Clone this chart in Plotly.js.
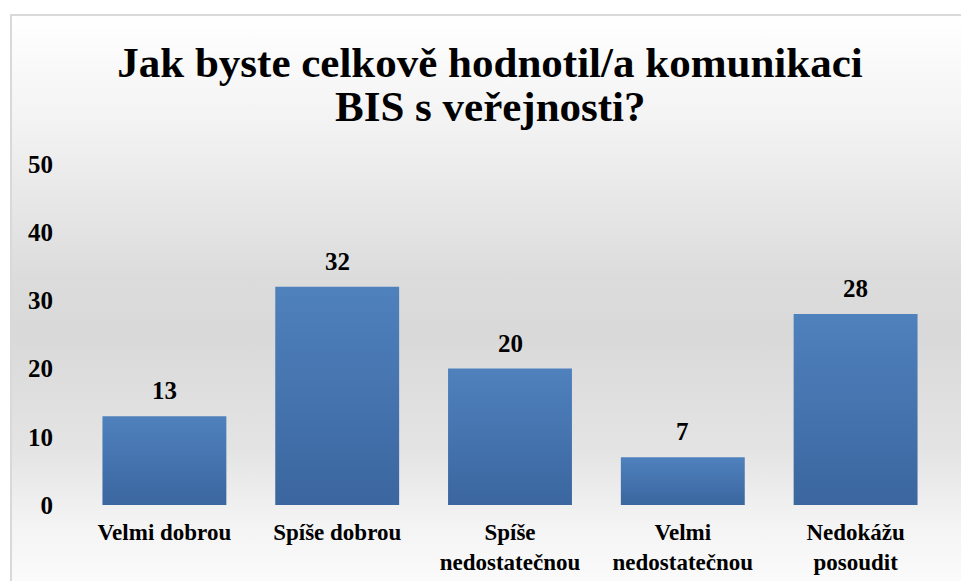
<!DOCTYPE html>
<html>
<head>
<meta charset="utf-8">
<script src="https://cdn.plot.ly/plotly-3.0.1.min.js"></script>
<style>
  html, body { margin: 0; padding: 0; background: #ffffff; }
  #wrap { position: relative; width: 961px; height: 581px; overflow: hidden; }
  #bg {
    position: absolute; left: 10px; top: 14px; width: 960px; height: 580px;
    border-left: 2px solid #d9d9d9; border-top: 2px solid #d9d9d9;
    background: linear-gradient(to bottom, #ffffff 0%, #f3f3f3 18%, #dcdcdc 45%, #d9d9d9 55%, #e4e4e4 75%, #f4f4f4 88%, #fcfcfc 100%);
  }
  #chart { position: absolute; left: 0; top: 0; width: 961px; height: 581px; }
</style>
</head>
<body>
<div id="wrap">
  <div id="bg"></div>
  <div id="chart"></div>
</div>
<script>
const categories = ["Velmi dobrou", "Spíše dobrou", "Spíše<br>nedostatečnou", "Velmi<br>nedostatečnou", "Nedokážu<br>posoudit"];
const values = [13, 32, 20, 7, 28];
const yTicks = [0, 10, 20, 30, 40, 50];
const titleLines = ["Jak byste celkově hodnotil/a komunikaci", "BIS s veřejnosti?"];

const FONT = "Liberation Serif";
const bold = s => s.split("<br>").map(t => "<b>" + t + "</b>").join("<br>");

const trace = {
  type: "bar",
  x: categories,
  y: values,
  marker: { color: "#4673ad" },
  hoverinfo: "none"
};

const annotations = categories.map((c, i) => ({
  x: c, y: values[i], xref: "x", yref: "y",
  text: "<b>" + values[i] + "</b>",
  showarrow: false, yanchor: "bottom", yshift: 10,
  font: { family: FONT, size: 25, color: "#000" }
}));
annotations.push({
  text: bold(titleLines[1]),
  xref: "paper", yref: "paper",
  x: (490 - 77.5) / (961 - 77.5 - 18.5), y: 1 + (164 - 107) / (581 - 164 - 76),
  xanchor: "center", yanchor: "middle", showarrow: false,
  font: { family: FONT, size: 43, color: "#000" }
});

const layout = {
  width: 961, height: 581,
  paper_bgcolor: "rgba(0,0,0,0)",
  plot_bgcolor: "rgba(0,0,0,0)",
  margin: { l: 77.5, r: 18.5, t: 164, b: 76 },
  bargap: 0.283,
  showlegend: false,
  font: { family: FONT, color: "#000" },
  title: {
    text: bold(titleLines[0]),
    x: 490 / 961, xanchor: "center",
    y: 1 - 62 / 581, yanchor: "middle", yref: "container",
    font: { family: FONT, size: 43, color: "#000" }
  },
  xaxis: {
    type: "category",
    showgrid: false, zeroline: false, showline: false,
    ticks: "outside", ticklen: 6, tickcolor: "rgba(0,0,0,0)",
    tickvals: categories,
    ticktext: categories.map(bold),
    tickfont: { family: FONT, size: 23, color: "#000" },
    fixedrange: true
  },
  yaxis: {
    range: [0, 50],
    tickvals: yTicks,
    ticktext: yTicks.map(v => "<b>" + v + "</b>"),
    showgrid: false, zeroline: false, showline: false,
    ticks: "outside", ticklen: 19, tickcolor: "rgba(0,0,0,0)",
    tickfont: { family: FONT, size: 25, color: "#000" },
    fixedrange: true
  },
  annotations: annotations
};

Plotly.newPlot("chart", [trace], layout, { displayModeBar: false, staticPlot: true }).then(gd => {
  const svg = gd.querySelector("svg.main-svg");
  const ns = "http://www.w3.org/2000/svg";
  let defs = svg.querySelector("defs");
  if (!defs) { defs = document.createElementNS(ns, "defs"); svg.insertBefore(defs, svg.firstChild); }
  const grad = document.createElementNS(ns, "linearGradient");
  grad.setAttribute("id", "barGrad");
  grad.setAttribute("x1", "0"); grad.setAttribute("y1", "0");
  grad.setAttribute("x2", "0"); grad.setAttribute("y2", "1");
  [["0%", "#4f81bd"], ["100%", "#3b669f"]].forEach(([o, c]) => {
    const s = document.createElementNS(ns, "stop");
    s.setAttribute("offset", o); s.setAttribute("stop-color", c);
    grad.appendChild(s);
  });
  defs.appendChild(grad);
  gd.querySelectorAll(".bars .point path").forEach(p => { p.style.fill = "url(#barGrad)"; });
});
</script>
</body>
</html>
